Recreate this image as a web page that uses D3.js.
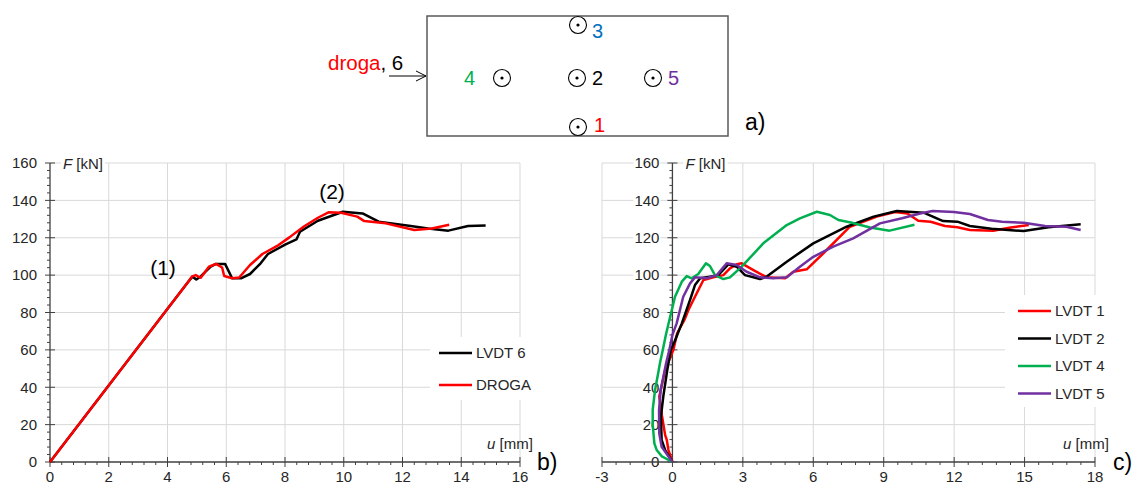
<!DOCTYPE html>
<html><head><meta charset="utf-8">
<script src="https://cdn.jsdelivr.net/npm/d3@7"></script>
<style>body{margin:0;background:#fff}svg{display:block;font-family:"Liberation Sans",Arial,sans-serif}</style>
</head><body>
<script>
// ---- data ----
const lvdt6 = [[0,0],[4.7,96.3],[4.85,99.2],[4.98,97.7],[5.13,99.3],[5.47,104.5],[5.65,106],[5.96,106],[6.2,98.3],[6.5,98.3],[6.81,100.6],[7.17,106.3],[7.42,111.3],[8.02,116.5],[8.39,119.1],[8.51,123.2],[9.12,129.1],[9.97,133.9],[10.64,133],[11.19,128.6],[12.28,126.3],[12.87,124.9],[13.56,123.8],[14.23,126.3],[14.83,126.6]];
const droga = [[0,0],[4.7,96.3],[4.83,99.2],[4.96,100],[5.13,98.6],[5.41,104.5],[5.65,106],[5.86,104.1],[5.93,99.5],[6.2,98.3],[6.44,98.7],[6.81,105.4],[7.23,111.3],[7.78,116.1],[8.15,120.2],[8.63,125.9],[9.12,130.7],[9.48,133.6],[9.91,133.4],[10.46,131.3],[10.7,128.9],[11.43,127.7],[12.4,124.1],[13.0,125],[13.59,127]];
const lvdt1 = [[0,0],[-0.17,6.4],[-0.24,11.8],[-0.31,14.4],[-0.45,25],[-0.56,35],[-0.31,49.2],[0.04,60],[0.2,68.9],[0.51,76],[0.68,81.3],[1.03,90.2],[1.32,97.4],[1.74,98.8],[2.17,100],[2.45,103.6],[2.74,105.8],[2.95,106.3],[3.45,102.7],[4.02,98.8],[4.8,98.3],[5.15,101.8],[5.72,103.1],[6.43,111.7],[7.56,125.9],[8.7,131.3],[9.48,133.8],[10.01,133],[10.47,129.1],[11.0,128.6],[11.61,126.3],[12.14,125.6],[12.67,124.1],[13.66,123.8],[14.35,125.4],[15.18,126.8]];
const lvdt2 = [[0,0],[-0.31,6.4],[-0.46,11.8],[-0.49,24.3],[-0.39,35],[-0.22,49.2],[-0.07,59.9],[0.11,65],[0.4,74.2],[0.75,86.7],[0.96,94.7],[1.18,98.3],[1.6,99.2],[1.95,100],[2.38,105.8],[2.74,104.5],[3.09,100],[3.73,97.9],[4.02,99.2],[4.87,107.2],[6.0,117],[7.42,125.9],[8.57,131.3],[9.56,134.3],[10.7,133.4],[11.53,128.9],[12.14,128.6],[12.67,126.3],[13.59,124.8],[14.96,123.6],[16.02,125.6],[17.39,127.2]];
const lvdt4 = [[0,0],[-0.45,3],[-0.67,6.4],[-0.77,10],[-0.84,20],[-0.84,28],[-0.74,38.5],[-0.6,48],[-0.53,53],[-0.41,60],[-0.28,68],[-0.13,76],[0.11,88.4],[0.4,96.5],[0.61,99.5],[0.82,98.3],[1.1,100.6],[1.43,106.3],[1.6,104.9],[1.81,100],[2.17,97.9],[2.45,98.8],[2.95,104.5],[3.87,117],[4.87,126.8],[5.43,130.4],[6.15,133.9],[6.71,132.2],[7.07,129.5],[7.6,128.2],[8.42,125.5],[9.25,123.8],[10.31,127]];
const lvdt5 = [[0,0],[-0.46,8.2],[-0.56,15.3],[-0.57,27.8],[-0.5,38.5],[-0.27,52.8],[-0.13,60],[0.0,68],[0.18,74.2],[0.46,88.4],[0.75,95.6],[0.96,98.8],[1.46,98.3],[1.89,100],[2.31,106.3],[2.74,105.4],[3.16,101.8],[3.73,98.8],[4.3,98.3],[4.87,98.8],[5.43,104.5],[6.0,109.8],[6.85,115.2],[7.7,119.7],[8.84,127.7],[9.78,130.4],[10.55,133],[11.08,134.3],[11.99,133.8],[12.67,132.7],[13.44,129.5],[14.04,128.6],[14.96,128],[15.87,126.3],[16.78,125.9],[17.39,124.1]];
const leftXTicks = [0,2,4,6,8,10,12,14,16];
const rightXTicks = [-3,0,3,6,9,12,15,18];
const yTicks = [0,20,40,60,80,100,120,140,160];
const leftSeries = [{name:"LVDT 6", data:lvdt6, color:"#000000"},{name:"DROGA", data:droga, color:"#FF0000"}];
const rightSeries = [{name:"LVDT 1", data:lvdt1, color:"#FF0000"},{name:"LVDT 2", data:lvdt2, color:"#000000"},{name:"LVDT 4", data:lvdt4, color:"#00B050"},{name:"LVDT 5", data:lvdt5, color:"#7030A0"}];

const svg = d3.select("body").append("svg").attr("width",1135).attr("height",486);
const GRID="#d9d9d9", AX="#404040", TXT="#262626";

function chart(opt){
  const x = d3.scaleLinear().domain(opt.xd).range(opt.xr);
  const y = d3.scaleLinear().domain([0,160]).range([462,163]);
  const g = svg.append("g");
  const vg = opt.xTicks.filter(t=>t!==0);
  g.selectAll(".vg").data(vg).join("line").attr("x1",d=>x(d)).attr("x2",d=>x(d)).attr("y1",y(0)).attr("y2",y(160)).attr("stroke",GRID);
  g.selectAll(".hg").data(yTicks.filter(t=>t>0)).join("line").attr("x1",opt.xr[0]).attr("x2",opt.xr[1]).attr("y1",d=>y(d)).attr("y2",d=>y(d)).attr("stroke",GRID);
  g.append("rect").attr("x",opt.leg.x).attr("y",opt.leg.y).attr("width",opt.leg.w).attr("height",opt.leg.h).attr("fill","#fff");
  const x0 = x(0);
  const yl = g.append("g");
  yTicks.forEach(t=>{
    const tx = yl.append("text").attr("x",x0-13).attr("y",y(t)).attr("dy","0.35em").attr("text-anchor","end").attr("font-size",15).attr("fill",TXT).text(t);
    if(opt.labelBg){const b=tx.node().getBBox(); yl.insert("rect",()=>tx.node()).attr("x",b.x-1).attr("y",b.y+1).attr("width",b.width+2).attr("height",b.height-2).attr("fill","#fff");}
  });
  const fl = g.append("text").attr("x",x0+13).attr("y",y(160)).attr("dy","0.4em").attr("font-size",15).attr("fill",TXT);
  fl.append("tspan").attr("font-style","italic").text("F");
  fl.append("tspan").text(" [kN]");
  const fb = fl.node().getBBox();
  g.insert("rect",()=>fl.node()).attr("x",fb.x-2).attr("y",fb.y).attr("width",fb.width+4).attr("height",fb.height).attr("fill","#fff");
  const yMinor = d3.range(0,160.01,4);
  g.selectAll(".ym").data(yMinor).join("line").attr("x1",d=>yTicks.includes(d)?x0-5:x0-3).attr("x2",d=>yTicks.includes(d)?x0+5:x0).attr("y1",d=>y(d)).attr("y2",d=>y(d)).attr("stroke",AX).attr("stroke-width",1);
  g.append("line").attr("x1",x0).attr("x2",x0).attr("y1",y(0)).attr("y2",y(160)).attr("stroke",AX).attr("stroke-width",1.3);
  const step = opt.xTicks[1]-opt.xTicks[0];
  const xMinor = d3.range(opt.xd[0], opt.xd[1]+1e-6, step/5).map(v=>+v.toFixed(4));
  const isMaj = d=>opt.xTicks.some(t=>Math.abs(t-d)<1e-6);
  g.selectAll(".xm").data(xMinor).join("line").attr("x1",d=>x(d)).attr("x2",d=>x(d)).attr("y1",d=>isMaj(d)?y(0)-5:y(0)).attr("y2",d=>isMaj(d)?y(0)+5:y(0)+3).attr("stroke",AX).attr("stroke-width",1);
  g.append("line").attr("x1",opt.xr[0]).attr("x2",opt.xr[1]).attr("y1",y(0)).attr("y2",y(0)).attr("stroke",AX).attr("stroke-width",1.3);
  g.selectAll(".xl").data(opt.xTicks).join("text").attr("x",d=>x(d)).attr("y",477).attr("dy","0.35em").attr("text-anchor","middle").attr("font-size",15).attr("fill",TXT).text(d=>d);
  const ul = g.append("text").attr("x",opt.uX).attr("y",444).attr("dy","0.35em").attr("font-size",15).attr("fill",TXT);
  ul.append("tspan").attr("font-style","italic").text("u");
  ul.append("tspan").text(" [mm]");
  g.append("text").attr("x",opt.tagX).attr("y",470).attr("font-size",23).attr("fill","#000").text(opt.tag);
  const line = d3.line().x(d=>x(d[0])).y(d=>y(d[1]));
  opt.series.forEach(s=>{
    g.append("path").attr("d",line(s.data)).attr("fill","none").attr("stroke",s.color).attr("stroke-width",2.5).attr("stroke-linejoin","round");
  });
  opt.series.forEach((s,i)=>{
    const ly = opt.leg.first + i*opt.leg.gap;
    g.append("line").attr("x1",opt.leg.lx).attr("x2",opt.leg.lx+33).attr("y1",ly).attr("y2",ly).attr("stroke",s.color).attr("stroke-width",2.5);
    g.append("text").attr("x",opt.leg.lx+37).attr("y",ly).attr("dy","0.35em").attr("font-size",15).attr("fill",TXT).text(s.name);
  });
  return {x,y,g};
}

const L = chart({xd:[0,16], xr:[50,520], xTicks:leftXTicks, series:leftSeries, uX:487, tagX:537, tag:"b)",
  leg:{x:430,y:337,w:102,h:63,lx:439,first:353,gap:32}, labelBg:false});
L.g.append("text").attr("x",163).attr("y",268).attr("dy","0.35em").attr("text-anchor","middle").attr("font-size",21).attr("fill","#000").text("(1)");
L.g.append("text").attr("x",332).attr("y",192).attr("dy","0.35em").attr("text-anchor","middle").attr("font-size",21).attr("fill","#000").text("(2)");

chart({xd:[-3,18], xr:[602,1095], xTicks:rightXTicks, series:rightSeries, uX:1063, tagX:1113, tag:"c)",
  leg:{x:1005,y:295,w:110,h:112,lx:1018,first:311,gap:27.5}, labelBg:true});

// ---- diagram a) ----
const diag = svg.append("g");
diag.append("rect").attr("x",427).attr("y",16).attr("width",301).attr("height",120).attr("fill","none").attr("stroke","#595959").attr("stroke-width",1.5);
const sensors = [{cx:578,cy:25,lab:"3",lx:592,ly:31,col:"#0070C0"},{cx:502,cy:78,lab:"4",lx:464,ly:78,col:"#00B050"},{cx:577,cy:78,lab:"2",lx:592,ly:78,col:"#000000"},{cx:653,cy:78,lab:"5",lx:668,ly:78,col:"#7030A0"},{cx:578,cy:127,lab:"1",lx:594,ly:125,col:"#FF0000"}];
sensors.forEach(s=>{
  diag.append("circle").attr("cx",s.cx).attr("cy",s.cy).attr("r",8.5).attr("fill","#fff").attr("stroke","#000").attr("stroke-width",1.1);
  diag.append("circle").attr("cx",s.cx).attr("cy",s.cy).attr("r",1.6).attr("fill","#000");
  diag.append("text").attr("x",s.lx).attr("y",s.ly).attr("dy","0.36em").attr("font-size",20).attr("fill",s.col).text(s.lab);
});
const dt = diag.append("text").attr("x",328).attr("y",70).attr("font-size",20.5);
dt.append("tspan").attr("fill","#FF0000").text("droga");
dt.append("tspan").attr("fill","#000").text(", 6");
diag.append("line").attr("x1",389).attr("x2",426).attr("y1",76).attr("y2",76).attr("stroke","#000").attr("stroke-width",1);
diag.append("path").attr("d","M416,71 L426,76 L416,81").attr("fill","none").attr("stroke","#000").attr("stroke-width",1);
diag.append("text").attr("x",745).attr("y",130).attr("font-size",23).attr("fill","#000").text("a)");
</script>
</body></html>
